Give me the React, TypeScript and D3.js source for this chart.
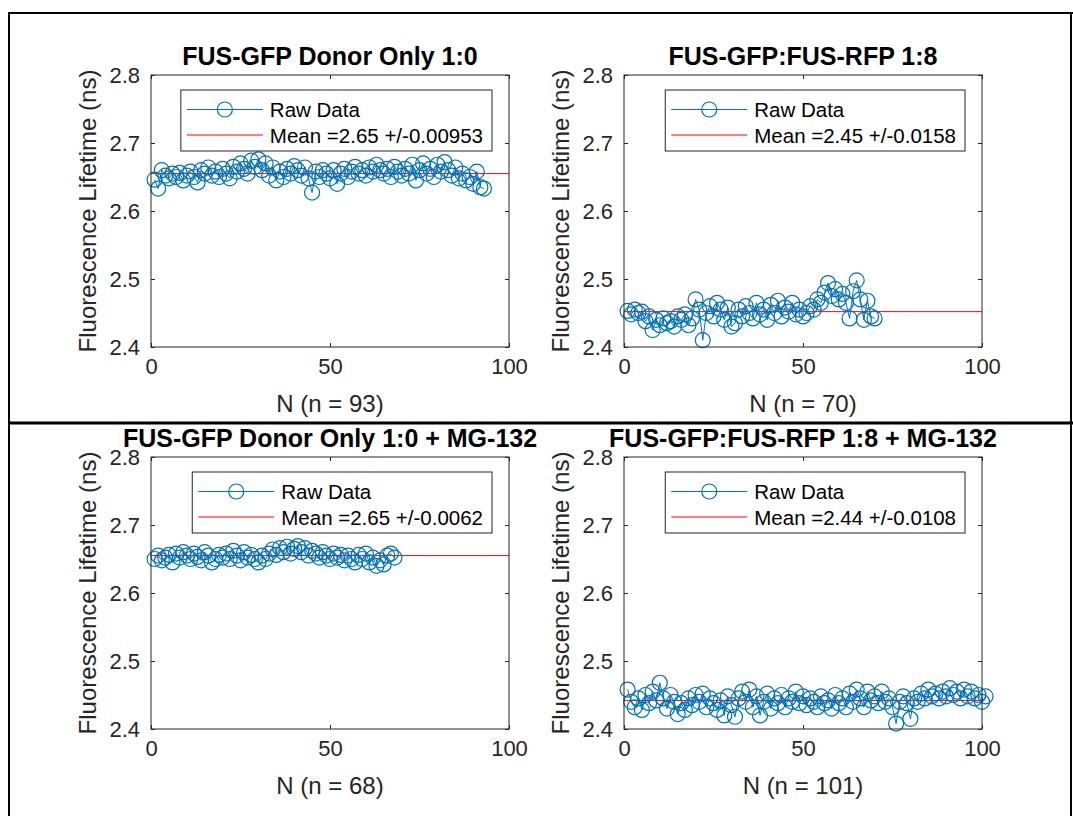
import * as d3 from "d3";
import React, { useRef, useEffect } from "react";

// panel titles and axis labels
const titles = [
  "FUS-GFP Donor Only 1:0",
  "FUS-GFP:FUS-RFP 1:8",
  "FUS-GFP Donor Only 1:0 + MG-132",
  "FUS-GFP:FUS-RFP 1:8 + MG-132",
];
const xLabels = ["N (n = 93)", "N (n = 70)", "N (n = 68)", "N (n = 101)"];
const yLabel = "Fluorescence Lifetime (ns)";

// raw lifetimes (ns)
const donorOnly = [
  2.646, 2.633, 2.66, 2.652, 2.648, 2.655, 2.65, 2.656, 2.645, 2.652,
  2.658, 2.65, 2.642, 2.66, 2.655, 2.664, 2.652, 2.658, 2.65, 2.662,
  2.655, 2.648, 2.665, 2.658, 2.67, 2.662, 2.655, 2.674, 2.665, 2.676,
  2.66, 2.67, 2.652, 2.664, 2.645, 2.658, 2.65, 2.662, 2.655, 2.666,
  2.66, 2.652, 2.664, 2.648, 2.627, 2.658, 2.65, 2.66, 2.655, 2.648,
  2.66, 2.64, 2.655, 2.662, 2.65, 2.658, 2.665, 2.655, 2.66, 2.652,
  2.664, 2.658, 2.668, 2.66, 2.655, 2.662, 2.65, 2.665, 2.658, 2.652,
  2.662, 2.655, 2.668, 2.645, 2.66, 2.67, 2.655, 2.662, 2.65, 2.668,
  2.658, 2.672, 2.66, 2.652, 2.664, 2.648, 2.655, 2.645, 2.65, 2.64,
  2.658, 2.635, 2.633,
];
const fret18 = [
  2.453, 2.448, 2.455, 2.45, 2.452, 2.438, 2.445, 2.425, 2.44, 2.432,
  2.442, 2.435, 2.438, 2.43, 2.445, 2.44, 2.448, 2.432, 2.442, 2.47,
  2.455, 2.41, 2.45, 2.46, 2.445, 2.465, 2.455, 2.44, 2.458, 2.43,
  2.435, 2.455, 2.445, 2.46, 2.45, 2.442, 2.465, 2.448, 2.455, 2.44,
  2.462, 2.45, 2.468, 2.445, 2.458, 2.452, 2.465, 2.448, 2.455, 2.445,
  2.45, 2.46, 2.455, 2.47, 2.465, 2.48, 2.494, 2.475, 2.485, 2.47,
  2.478, 2.465, 2.442, 2.482, 2.498, 2.47, 2.44, 2.468, 2.445, 2.442,
];
const donorOnlyMG = [
  2.65, 2.655, 2.648, 2.652, 2.656, 2.645, 2.658, 2.652, 2.66, 2.655,
  2.65, 2.658, 2.653, 2.648, 2.66, 2.655, 2.645, 2.65, 2.656, 2.652,
  2.658, 2.65, 2.662, 2.655, 2.648, 2.66, 2.652, 2.656, 2.65, 2.645,
  2.655, 2.65, 2.658, 2.664, 2.656, 2.666, 2.66, 2.668, 2.658, 2.665,
  2.669, 2.66, 2.666, 2.655, 2.662, 2.658, 2.652, 2.66, 2.655, 2.65,
  2.658, 2.652, 2.656, 2.648, 2.655, 2.65, 2.645, 2.656, 2.65, 2.658,
  2.645, 2.652, 2.64, 2.648, 2.642, 2.655, 2.658, 2.652,
];
const fret18MG = [
  2.458, 2.44, 2.432, 2.445, 2.428, 2.45, 2.438, 2.455, 2.442, 2.468,
  2.445, 2.43, 2.45, 2.44, 2.422, 2.438, 2.428, 2.445, 2.435, 2.45,
  2.44, 2.452, 2.432, 2.445, 2.438, 2.428, 2.442, 2.42, 2.448, 2.435,
  2.418, 2.445, 2.455, 2.44, 2.458, 2.432, 2.448, 2.42, 2.44, 2.452,
  2.43, 2.445, 2.438, 2.45, 2.432, 2.445, 2.44, 2.455, 2.438, 2.448,
  2.435, 2.445, 2.44, 2.432, 2.448, 2.438, 2.442, 2.43, 2.45, 2.438,
  2.445, 2.432, 2.452, 2.44, 2.458, 2.445, 2.432, 2.455, 2.442, 2.448,
  2.438, 2.455, 2.44, 2.445, 2.432, 2.408, 2.44, 2.448, 2.438, 2.415,
  2.445, 2.44, 2.452, 2.445, 2.458, 2.448, 2.452, 2.445, 2.455, 2.448,
  2.46, 2.45, 2.455, 2.445, 2.458, 2.448, 2.455, 2.445, 2.45, 2.44,
  2.448,
];
const series = [donorOnly, fret18, donorOnlyMG, fret18MG];

// mean line and legend text
const means = [2.655, 2.452, 2.655, 2.442];
const meanText = ["2.65", "2.45", "2.65", "2.44"];
const errText = ["0.00953", "0.0158", "0.0062", "0.0108"];

const xTicks = [0, 50, 100];
const yTicks = [2.4, 2.5, 2.6, 2.7, 2.8];

// layout
const W = 1073;
const H = 816;
const FONT = "'Liberation Sans', Arial, Helvetica, sans-serif";
const BLUE = "#0072BD";
const AXIS = "#262626";
const boxes = [
  [151, 75],
  [624, 75],
  [151, 457],
  [624, 457],
];
const boxW = 358;
const boxH = 272;

const App = () => {
  const svgRef = useRef<SVGSVGElement | null>(null);

  useEffect(() => {
    const svg = d3.select(svgRef.current);
    svg.selectAll("*").remove();

    // outer frame
    const frame = svg.append("g").attr("stroke", "#000");
    frame.append("line").attr("x1", 8).attr("x2", W).attr("y1", 13).attr("y2", 13).attr("stroke-width", 2);
    frame.append("line").attr("x1", 9).attr("x2", 9).attr("y1", 12).attr("y2", H).attr("stroke-width", 2);
    frame.append("line").attr("x1", 1071).attr("x2", 1071).attr("y1", 12).attr("y2", H).attr("stroke-width", 2);
    frame.append("line").attr("x1", 8).attr("x2", W).attr("y1", 423).attr("y2", 423).attr("stroke-width", 3);

    series.forEach((vals, i) => {
      const [x0, y0] = boxes[i];
      const x = d3.scaleLinear().domain([0, 100]).range([x0, x0 + boxW]);
      const y = d3.scaleLinear().domain([2.4, 2.8]).range([y0 + boxH, y0]);
      const g = svg.append("g");

      // mean line
      g.append("line")
        .attr("x1", x(0)).attr("x2", x(100))
        .attr("y1", y(means[i])).attr("y2", y(means[i]))
        .attr("stroke", "#ff0000").attr("stroke-width", 1);

      // raw data
      const pts: [number, number][] = vals.map((v, k) => [k + 1, v]);
      g.append("path")
        .attr("d", d3.line<[number, number]>().x(d => x(d[0])).y(d => y(d[1]))(pts))
        .attr("fill", "none").attr("stroke", BLUE).attr("stroke-width", 1);
      g.selectAll("circle.pt").data(pts).join("circle")
        .attr("class", "pt")
        .attr("cx", d => x(d[0])).attr("cy", d => y(d[1])).attr("r", 7.5)
        .attr("fill", "none").attr("stroke", BLUE).attr("stroke-width", 1.2);

      // axes
      const styleAxis = (a: any) => {
        a.select(".domain").remove();
        a.selectAll("line").attr("stroke", AXIS);
        a.selectAll("text").attr("fill", AXIS).attr("font-size", 22).attr("font-family", FONT);
        a.attr("font-family", FONT);
      };
      g.append("g").attr("transform", `translate(0,${y0 + boxH})`)
        .call(d3.axisBottom(x).tickValues(xTicks).tickSize(-4).tickPadding(11).tickFormat(d3.format("d")))
        .call(styleAxis);
      g.append("g").attr("transform", `translate(0,${y0})`)
        .call(d3.axisTop(x).tickValues(xTicks).tickSize(-4).tickFormat(() => ""))
        .call(styleAxis);
      g.append("g").attr("transform", `translate(${x0},0)`)
        .call(d3.axisLeft(y).tickValues(yTicks).tickSize(-4).tickPadding(11).tickFormat(d3.format(".1f")))
        .call(styleAxis);
      g.append("g").attr("transform", `translate(${x0 + boxW},0)`)
        .call(d3.axisRight(y).tickValues(yTicks).tickSize(-4).tickFormat(() => ""))
        .call(styleAxis);
      g.append("rect")
        .attr("x", x0).attr("y", y0).attr("width", boxW).attr("height", boxH)
        .attr("fill", "none").attr("stroke", AXIS).attr("stroke-width", 1);

      // title and labels
      g.append("text")
        .attr("x", x0 + boxW / 2).attr("y", y0 - 10)
        .attr("text-anchor", "middle").attr("font-family", FONT)
        .attr("font-weight", "bold").attr("font-size", 25).attr("fill", "#000")
        .text(titles[i]);
      g.append("text")
        .attr("x", x0 + boxW / 2).attr("y", y0 + boxH + 65)
        .attr("text-anchor", "middle").attr("font-family", FONT)
        .attr("font-size", 24).attr("fill", AXIS)
        .text(xLabels[i]);
      g.append("text")
        .attr("transform", `translate(${x0 - 55},${y0 + boxH / 2}) rotate(-90)`)
        .attr("text-anchor", "middle").attr("font-family", FONT)
        .attr("font-size", 24).attr("fill", AXIS)
        .text(yLabel);

      // legend
      const lg = g.append("g");
      const box = lg.append("rect").attr("fill", "#fff").attr("stroke", AXIS).attr("stroke-width", 1);
      const t1 = lg.append("text").attr("font-family", FONT).attr("font-size", 20.5).attr("fill", "#000").text("Raw Data");
      const t2 = lg.append("text").attr("font-family", FONT).attr("font-size", 20.5).attr("fill", "#000")
        .text(`Mean =${meanText[i]} +/-${errText[i]}`);
      const tw = Math.max((t1.node() as any).getComputedTextLength(), (t2.node() as any).getComputedTextLength());
      const lw = 89 + tw + 9;
      const bx = x0 + boxW - 17 - lw;
      const by = y0 + 15;
      box.attr("x", bx).attr("y", by).attr("width", lw).attr("height", 61);
      t1.attr("x", bx + 89).attr("y", by + 19.5 + 7.5);
      t2.attr("x", bx + 89).attr("y", by + 45 + 7.5);
      lg.append("line").attr("x1", bx + 6).attr("x2", bx + 82).attr("y1", by + 19.5).attr("y2", by + 19.5)
        .attr("stroke", BLUE).attr("stroke-width", 1);
      lg.append("circle").attr("cx", bx + 44).attr("cy", by + 19.5).attr("r", 7.5)
        .attr("fill", "none").attr("stroke", BLUE).attr("stroke-width", 1.2);
      lg.append("line").attr("x1", bx + 6).attr("x2", bx + 82).attr("y1", by + 45).attr("y2", by + 45)
        .attr("stroke", "#ff0000").attr("stroke-width", 1);
    });
  }, []);

  return (
    <svg
      ref={svgRef}
      width={W}
      height={H}
      style={{ position: "absolute", left: 0, top: 0, background: "#fff", display: "block" }}
    />
  );
};

export default App;
